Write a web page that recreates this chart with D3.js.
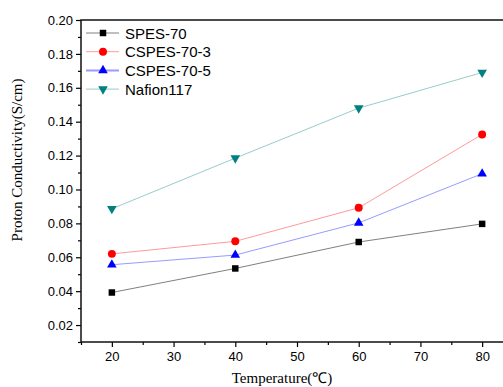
<!DOCTYPE html>
<html>
<head>
<meta charset="utf-8">
<script src="https://cdn.jsdelivr.net/npm/d3@7"></script>
<style>
  body { margin: 0; background: #fff; }
  svg { display: block; }
</style>
</head>
<body>
<svg id="chart" width="503" height="387"></svg>
<script>
// temperatures (x) and conductivity per membrane
const temps = [20, 40, 60, 80];
const spes70 = [0.0392, 0.0534, 0.0690, 0.0797];
const cspes703 = [0.0620, 0.0694, 0.0892, 0.1325];
const cspes705 = [0.0556, 0.0613, 0.0803, 0.1093];
const nafion117 = [0.0886, 0.1185, 0.1480, 0.1690];

const names = ['SPES-70', 'CSPES-70-3', 'CSPES-70-5', 'Nafion117'];
const xTicks = [20, 30, 40, 50, 60, 70, 80];
const yTicks = [0.02, 0.04, 0.06, 0.08, 0.10, 0.12, 0.14, 0.16, 0.18, 0.20];

const series = [
  {name: names[0], values: spes70, line: '#808080', fill: '#000000', symbol: d3.symbolSquare, rot: 0},
  {name: names[1], values: cspes703, line: '#ff9a9a', fill: '#ff0000', symbol: d3.symbolCircle, rot: 0},
  {name: names[2], values: cspes705, line: '#9a9aff', fill: '#0000ff', symbol: d3.symbolTriangle, rot: 0},
  {name: names[3], values: nafion117, line: '#99cccc', fill: '#008080', symbol: d3.symbolTriangle, rot: 180}
];

const svg = d3.select('#chart');
const mLeft = 81, mTop = 20, mBottom = 342, mRight = 513;

const x = d3.scaleLinear().domain([15, 85]).range([mLeft, mRight]);
const y = d3.scaleLinear().domain([0.01, 0.20]).range([mBottom, mTop]);

// y axis
svg.append('g').attr('transform', 'translate(' + mLeft + ',0)')
  .call(d3.axisLeft(y).tickValues(yTicks).tickFormat(d3.format('.2f')).tickSize(5).tickPadding(3));
svg.append('g').attr('transform', 'translate(' + mLeft + ',0)')
  .call(d3.axisLeft(y).tickValues(d3.range(0.01, 0.2, 0.02)).tickFormat('').tickSize(3));

// x axis
svg.append('g').attr('transform', 'translate(0,' + mBottom + ')')
  .call(d3.axisBottom(x).tickValues(xTicks).tickFormat(d3.format('d')).tickSize(5).tickPadding(5));
svg.append('g').attr('transform', 'translate(0,' + mBottom + ')')
  .call(d3.axisBottom(x).tickValues([15, 25, 35, 45, 55, 65, 75, 85]).tickFormat('').tickSize(3));

svg.selectAll('.tick text')
  .style('font-family', 'Liberation Sans, Arial, sans-serif')
  .style('font-size', '13px')
  .attr('fill', '#000');
svg.selectAll('.tick line').attr('stroke', '#000').attr('stroke-width', 1.2);
svg.selectAll('.domain').remove();

// frame
svg.append('rect')
  .attr('x', mLeft).attr('y', mTop)
  .attr('width', mRight - mLeft).attr('height', mBottom - mTop)
  .attr('fill', 'none').attr('stroke', '#111').attr('stroke-width', 1.5);

const markerSize = s => s.symbol === d3.symbolCircle ? 50 : (s.symbol === d3.symbolSquare ? 42 : 40);

// series lines + markers
const line = d3.line().x((d, i) => x(temps[i])).y(d => y(d));
series.forEach(s => {
  svg.append('path')
    .datum(s.values)
    .attr('fill', 'none')
    .attr('stroke', s.line)
    .attr('stroke-width', 1)
    .attr('d', line);
  svg.selectAll(null)
    .data(s.values)
    .enter().append('path')
    .attr('transform', (d, i) => 'translate(' + x(temps[i]) + ',' + y(d) + ') rotate(' + s.rot + ')')
    .attr('d', d3.symbol().type(s.symbol).size(markerSize(s)))
    .attr('fill', s.fill);
});

// legend
const legend = svg.append('g');
series.forEach((s, i) => {
  const ly = 33 + i * 18.7;
  legend.append('line')
    .attr('x1', 86).attr('x2', 119).attr('y1', ly).attr('y2', ly)
    .attr('stroke', s.line).attr('stroke-width', s.name === 'CSPES-70-5' ? 2 : 1);
  legend.append('path')
    .attr('transform', 'translate(103,' + ly + ') rotate(' + s.rot + ')')
    .attr('d', d3.symbol().type(s.symbol).size(markerSize(s)))
    .attr('fill', s.fill);
  legend.append('text')
    .attr('x', 125).attr('y', ly + 5.5)
    .style('font-family', 'Liberation Sans, Arial, sans-serif')
    .style('font-size', '15px')
    .text(s.name);
});

// axis titles
svg.append('text')
  .attr('transform', 'translate(22,160) rotate(-90)')
  .attr('text-anchor', 'middle')
  .style('font-family', 'Liberation Serif, Times New Roman, serif')
  .style('font-size', '15px')
  .text('Proton Conductivity(S/cm)');

svg.append('text')
  .attr('x', 282).attr('y', 383)
  .attr('text-anchor', 'middle')
  .style('font-family', 'Liberation Serif, Times New Roman, serif')
  .style('font-size', '15px')
  .text('Temperature(\u2103)');
</script>
</body>
</html>
